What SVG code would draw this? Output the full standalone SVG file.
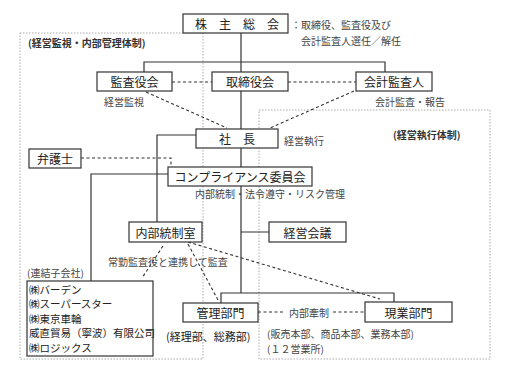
<svg xmlns="http://www.w3.org/2000/svg" width="519" height="373" viewBox="0 0 519 373">
<style>
text{font-family:"Noto Sans CJK JP","Noto Sans",sans-serif;dominant-baseline:central;}
.bx{fill:#fff;stroke:#333;stroke-width:1.2;}
.bt{font-size:12px;fill:#222;text-anchor:middle;}
.lb{font-size:10px;fill:#444;}
.hd{font-size:10px;fill:#333;font-weight:bold;}
.it{font-size:10.5px;fill:#222;}
.reg{fill:none;stroke:#aaa;stroke-width:1;stroke-dasharray:1.5 1.5;}
.ln{fill:none;stroke:#333;stroke-width:1.2;}
.ds{fill:none;stroke:#333;stroke-width:1.1;stroke-dasharray:3 2.5;}
</style>
<rect width="519" height="373" fill="#fff"/>
<g id="regions">
<rect class="reg" x="20" y="33" width="183" height="326"/>
<rect class="reg" x="259" y="110" width="231" height="249"/>
<text class="hd" x="28" y="42">(経営監視・内部管理体制)</text>
<text class="hd" x="393" y="134">(経営執行体制)</text>
</g>
<g id="connectors">
<path class="ln" d="M241 33V293M144 72V62H385V72M157 222V135H196M91 281V174H168M241 232H269M221 303V293H394V302"/>
<path class="ds" d="M172 82H212M288 82H356M146 92L227 128M354 91L270 128M81 158H171V167M258 312H283M333 312H365M163 246L142 278M188 244L218 300M188 242L380 299"/>
<text class="lb" x="104" y="101">経営監視</text>
<text class="lb" x="375" y="101">会計監査・報告</text>
<text class="lb" x="284" y="140">経営執行</text>
<text class="lb" x="195" y="193">内部統制・法令遵守・リスク管理</text>
<text class="lb" x="108" y="261">常勤監査役と連携して監査</text>
<text class="lb" x="289" y="312">内部牽制</text>
</g>
<g id="n-soukai"><rect class="bx" x="183" y="14" width="105" height="19"/><text class="bt" x="237" y="23.5">株　主　総　会</text></g>
<g id="n-soukai-note"><text class="lb" x="291" y="24">：取締役、監査役及び</text><text class="lb" x="301" y="40">会計監査人選任／解任</text></g>
<g id="n-kansayakukai"><rect class="bx" x="97" y="72" width="75" height="19"/><text class="bt" x="134.5" y="81.5">監査役会</text></g>
<g id="n-torishimariyakukai"><rect class="bx" x="212" y="72" width="76" height="19"/><text class="bt" x="250" y="81.5">取締役会</text></g>
<g id="n-kaikeikansanin"><rect class="bx" x="356" y="72" width="76" height="19"/><text class="bt" x="394" y="81.5">会計監査人</text></g>
<g id="n-shacho"><rect class="bx" x="196" y="129" width="82" height="19"/><text class="bt" x="237" y="138.5">社　長</text></g>
<g id="n-bengoshi"><rect class="bx" x="29" y="149" width="52" height="19"/><text class="bt" x="55" y="158.5">弁護士</text></g>
<g id="n-compliance"><rect class="bx" x="168" y="167" width="144" height="19"/><text class="bt" x="240" y="176.5">コンプライアンス委員会</text></g>
<g id="n-naibutouseishitsu"><rect class="bx" x="129" y="222" width="73" height="20"/><text class="bt" x="165.5" y="232">内部統制室</text></g>
<g id="n-keieikaigi"><rect class="bx" x="269" y="222" width="77" height="20"/><text class="bt" x="307.5" y="232">経営会議</text></g>
<g id="n-renketsu">
<text class="lb" x="27" y="272">(連結子会社)</text>
<rect class="bx" x="27" y="281" width="126" height="75"/>
<text class="it" x="29" y="289">㈱バーデン</text>
<text class="it" x="29" y="303.5">㈱スーパースター</text>
<text class="it" x="29" y="318">㈱東京車輪</text>
<text class="it" x="29" y="332.5">威直貿易（寧波）有限公司</text>
<text class="it" x="29" y="347">㈱ロジックス</text>
</g>
<g id="n-kanribumon"><rect class="bx" x="183" y="303" width="75" height="19"/><text class="bt" x="220.5" y="312.5">管理部門</text><text style="font-size:11px;fill:#222" x="166" y="336">(経理部、総務部)</text></g>
<g id="n-genbumon"><rect class="bx" x="365" y="302" width="87" height="20"/><text class="bt" x="408.5" y="312">現業部門</text><text class="lb" x="267" y="333">(販売本部、商品本部、業務本部)</text><text class="lb" x="267" y="348">(１２営業所)</text></g>
</svg>
